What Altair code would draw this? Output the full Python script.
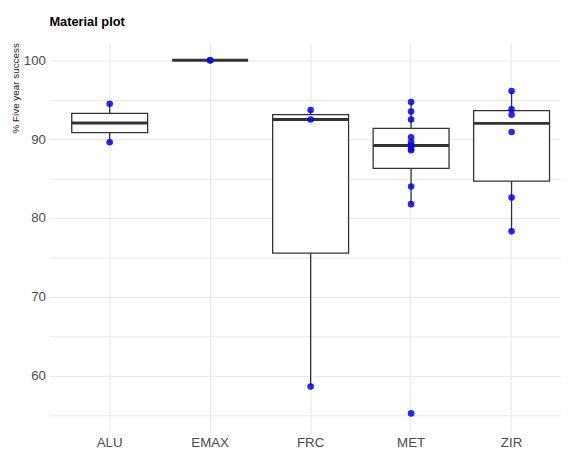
import altair as alt
import pandas as pd

FONT = "Liberation Sans, Arial, sans-serif"

categories = ["ALU", "EMAX", "FRC", "MET", "ZIR"]
alu = [94.5, 89.6]
emax = [100.0, 100.0]
frc = [93.7, 92.5, 58.6]
met = [94.7, 93.5, 92.5, 90.25, 89.6, 89.2, 88.8, 88.6, 84.0, 81.75, 55.2]
zir = [96.1, 93.8, 93.1, 90.9, 82.6, 78.3]

series = [alu, emax, frc, met, zir]
rows = []
for cat, vals in zip(categories, series):
    for v in vals:
        rows.append({"Material": cat, "Success": v})
df = pd.DataFrame(rows)

y_ticks = [55, 60, 65, 70, 75, 80, 85, 90, 95, 100]

x_enc = alt.X(
    "Material:N",
    sort=categories,
    scale=alt.Scale(range=[0, 530], paddingOuter=0.1, paddingInner=0),
    axis=alt.Axis(
        title=None, ticks=False, domain=False, grid=True, bandPosition=0.5,
        labelAngle=0, labelFont=FONT, labelFontSize=13.5, labelColor="#4d4d4d",
        labelPadding=5, gridColor="#e6e6e6", gridWidth=1,
    ),
)
x_plain = alt.X("Material:N", sort=categories)
y_scale = alt.Scale(domain=[52.96, 102.24], nice=False, zero=False)
y_axis = alt.Axis(
    title="% Five year success", values=y_ticks,
    labelExpr="datum.value % 10 == 0 ? datum.label : ''",
    ticks=False, domain=False, grid=True, gridColor="#e6e6e6", gridWidth=1,
    labelFont=FONT, labelFontSize=13.5, labelColor="#4d4d4d", labelPadding=4,
    titleFont=FONT, titleFontSize=10, titleFontWeight="normal", titleColor="#1a1a1a",
    titleAngle=270, titleAlign="right", titleBaseline="middle", titleX=-34, titleY=0,
)

base = alt.Chart(df)
stats = base.transform_joinaggregate(
    q1="q1(Success)", q3="q3(Success)", med="median(Success)", groupby=["Material"]
).transform_filter(
    "datum.Success >= datum.q1 - 1.5*(datum.q3-datum.q1) && "
    "datum.Success <= datum.q3 + 1.5*(datum.q3-datum.q1)"
).transform_aggregate(
    wlo="min(Success)", whi="max(Success)", q1="min(q1)", q3="min(q3)",
    med="min(med)", groupby=["Material"]
)

lower = stats.mark_rule(color="#333333", strokeWidth=1.3).encode(
    x=x_enc, y=alt.Y("wlo:Q", scale=y_scale, axis=y_axis), y2="q1:Q"
)
upper = stats.mark_rule(color="#333333", strokeWidth=1.3).encode(
    x=x_plain, y=alt.Y("q3:Q"), y2="whi:Q"
)
boxes = stats.mark_bar(fill="white", stroke="#333333", strokeWidth=1.3, width=77).encode(
    x=x_plain, y=alt.Y("q1:Q"), y2="q3:Q"
)
medians = stats.mark_tick(color="#333333", thickness=3, size=77, opacity=1).encode(
    x=x_plain, y=alt.Y("med:Q")
)

points = base.mark_circle(size=45, color="#0000ff", opacity=0.85).encode(
    x=x_plain,
    y=alt.Y("Success:Q"),
)

chart = alt.layer(lower, upper, boxes, medians, points).properties(
    width=517, height=394,
    title=alt.Title("Material plot", anchor="start", frame="group", font=FONT,
                    fontSize=13, fontWeight="bold", color="#000000", offset=14),
    padding={"left": 42, "top": 32, "right": 2, "bottom": 15},
    autosize=alt.AutoSizeParams(type="none"),
).configure_view(stroke=None)

chart.save("out.html", embed_options={"renderer": "svg", "actions": False})
